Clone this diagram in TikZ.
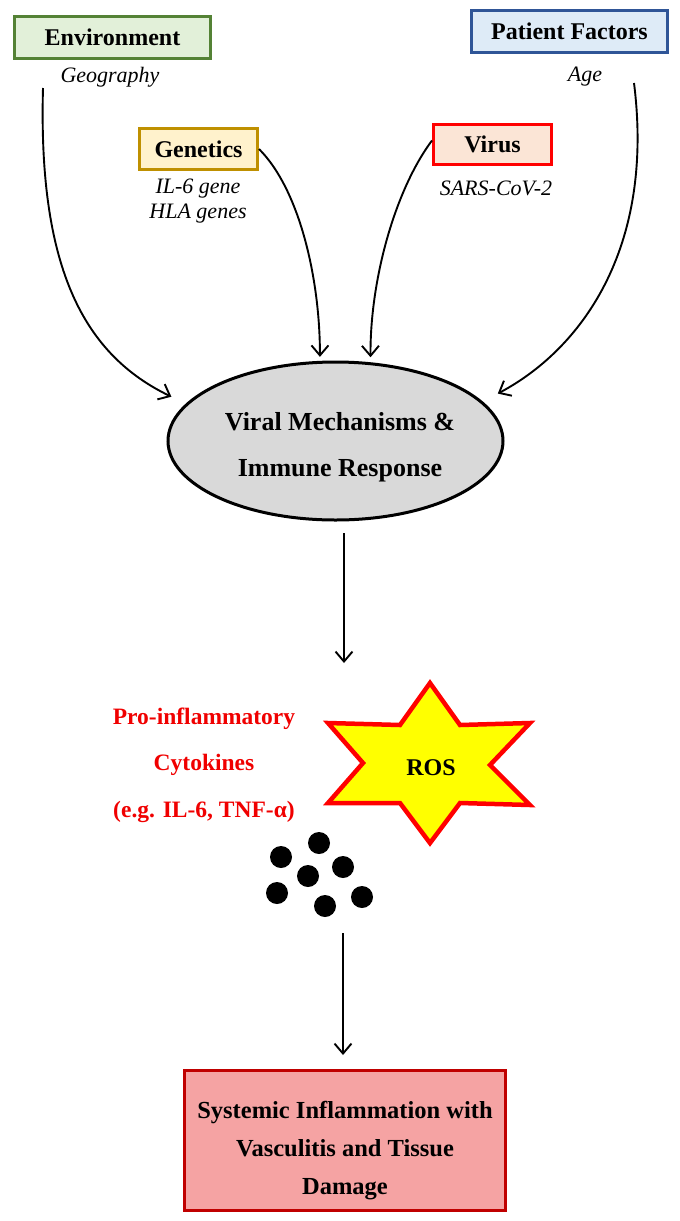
\documentclass[tikz,border=0pt]{standalone}
\usepackage{fontspec}
\setmainfont{Liberation Serif}
\usetikzlibrary{arrows.meta,shapes.geometric}
\definecolor{envfill}{HTML}{E2F0D9}
\definecolor{envdraw}{HTML}{548235}
\definecolor{patfill}{HTML}{DEEBF7}
\definecolor{patdraw}{HTML}{2F5597}
\definecolor{genfill}{HTML}{FFF2CC}
\definecolor{gendraw}{HTML}{BF9000}
\definecolor{virfill}{HTML}{FBE5D6}
\definecolor{virdraw}{HTML}{FF0000}
\definecolor{ellfill}{HTML}{D9D9D9}
\definecolor{botfill}{HTML}{F5A3A3}
\definecolor{botdraw}{HTML}{C00000}
\definecolor{redtext}{HTML}{F00000}
\definecolor{starfill}{HTML}{FFFF00}
\tikzset{
  factorbox/.style={draw, line width=3pt, rectangle, inner sep=0pt,
    font=\fontsize{24}{28}\selectfont\bfseries},
  sublabel/.style={font=\fontsize{22}{26}\selectfont\itshape, align=center, inner sep=0pt},
  conn/.style={line width=1.9pt, -{Straight Barb[length=10pt,width=17pt,line width=1.9pt]}},
}
\begin{document}
\begin{tikzpicture}[x=1pt,y=-1pt]
\useasboundingbox (0,0) rectangle (680,1221);

% factor boxes
\node[factorbox, fill=envfill, draw=envdraw, minimum width=196pt, minimum height=42pt] (env) at (112.5,37.5) {Environment};
\node[sublabel] (geo) at (110,77) {Geography};
\node[factorbox, fill=patfill, draw=patdraw, minimum width=196pt, minimum height=42pt] (pat) at (569.5,31.5) {Patient Factors};
\node[sublabel] (age) at (585,77) {Age};
\node[factorbox, fill=genfill, draw=gendraw, minimum width=118pt, minimum height=41pt] (gen) at (198.5,149) {Genetics};
\node[sublabel, font=\fontsize{22}{25}\selectfont\itshape] (genes) at (198,201) {IL-6 gene\\HLA genes};
\node[factorbox, fill=virfill, draw=virdraw, minimum width=118pt, minimum height=40pt] (vir) at (492.5,144.5) {Virus};
\node[sublabel] (sars) at (496,188) {SARS-CoV-2};

% central ellipse
\node[ellipse, draw, line width=3pt, fill=ellfill, minimum width=335pt, minimum height=158pt, inner sep=0pt] (ell) at (335.5,441) {};
\node[align=center, inner sep=0pt, font=\fontsize{26}{46}\selectfont\bfseries] (elltext) at (340,447) {Viral Mechanisms \&\\Immune Response};

% start points of the curved connectors
\coordinate (envstart) at (43,88);
\coordinate (patstart) at (634,83);

\draw[conn, shorten >=16pt] (envstart) .. controls (38,270) and (85,355) .. (ell.166.7);
\draw[conn, shorten >=17pt] (patstart) .. controls (655,250) and (580,350) .. (ell.15);
\draw[conn, shorten >=4pt] (gen.east) .. controls (300,190) and (320,280) .. (ell.101);
\draw[conn, shorten >=5pt] ([yshift=4pt]vir.west) .. controls (395,190) and (370,280) .. (ell.66);

% arrow down to the mediators
\coordinate (a1s) at (344,533);
\coordinate (a1e) at (344,663);
\draw[conn] (a1s) -- (a1e);

% cytokines text
\node[align=center, text=redtext, inner sep=0pt, font=\fontsize{23.5}{46.5}\selectfont\bfseries] (cyto) at (204,765)
  {Pro-inflammatory\\Cytokines\\(e.g. IL-6, TNF-α)};

% ROS star
\draw[line width=4.5pt, draw=red, fill=starfill, line join=miter]
  (430,683) -- (460,725) -- (530,723) -- (490,765) -- (530,805) -- (460,803) --
  (430,843) -- (400,803) -- (328,803) -- (363,763) -- (328,723) -- (400,725) -- cycle;
\node[font=\fontsize{24}{28}\selectfont\bfseries, inner sep=0pt] (ros) at (431,768) {ROS};

% cytokine dots
\foreach \x/\y in {319/843, 281/857, 343/867, 308/876, 277/893, 325/906, 362/897}
  \fill[black] (\x,\y) circle (11);

% outcome box
\node[draw=botdraw, fill=botfill, line width=3pt, rectangle, minimum width=321pt, minimum height=140pt,
  inner sep=0pt] (bot) at (345,1140.5) {};
\node[align=center, inner sep=0pt, font=\fontsize{24.5}{38}\selectfont\bfseries] (bottext) at (345,1151)
  {Systemic Inflammation with\\Vasculitis and Tissue\\Damage};

% arrow down to the outcome
\coordinate (a2s) at (343,933);
\draw[conn, shorten >=14pt] (a2s) -- (a2s |- bot.north);
\end{tikzpicture}
\end{document}
